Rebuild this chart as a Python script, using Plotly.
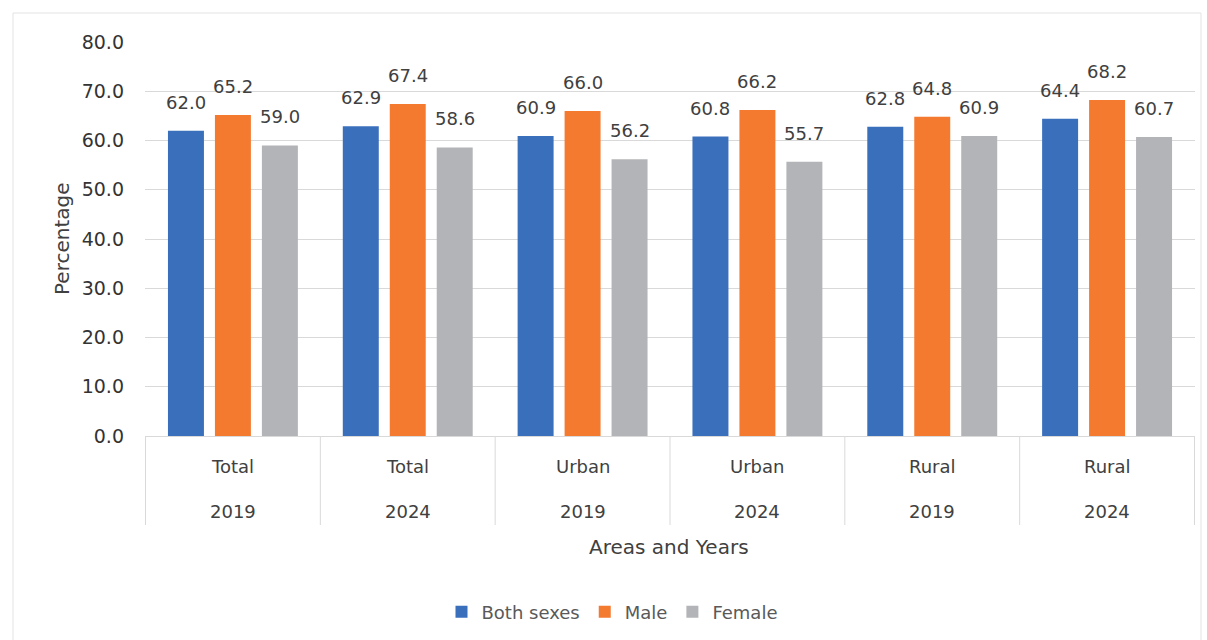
import plotly.graph_objects as go

areas = ["Total", "Total", "Urban", "Urban", "Rural", "Rural"]
years = ["2019", "2024", "2019", "2024", "2019", "2024"]
both_sexes = [62.0, 62.9, 60.9, 60.8, 62.8, 64.4]
male = [65.2, 67.4, 66.0, 66.2, 64.8, 68.2]
female = [59.0, 58.6, 56.2, 55.7, 60.9, 60.7]
y_ticks = [0, 10, 20, 30, 40, 50, 60, 70, 80]

FONT = "'DejaVu Sans', sans-serif"
TXT = "#404040"
GRID = "#D9D9D9"
W, H = 1207, 640
ML, MR, MT, MB = 145, 12, 42, 204
pw = W - ML - MR
ph = H - MT - MB
BARGAP = 0.194
BARGROUPGAP = 0.234

cats = [f"{a} {y}" for a, y in zip(areas, years)]
series = [("Both sexes", both_sexes, "#3A6FBC"),
          ("Male", male, "#F47A30"),
          ("Female", female, "#B3B4B7")]

fig = go.Figure()
for name, vals, col in series:
    fig.add_trace(go.Bar(
        x=cats, y=vals, name=name, marker=dict(color=col, line=dict(width=0)),
    ))

annotations = []
# value labels above bars
slot = pw / len(cats) * (1 - BARGAP) / len(series)
for k, (name, vals, col) in enumerate(series):
    for c, v in zip(cats, vals):
        annotations.append(dict(
            x=c, y=v, xref="x", yref="y", text=f"{v:.1f}", showarrow=False,
            xshift=(k - (len(series) - 1) / 2) * slot, yshift=16,
            xanchor="center", yanchor="bottom",
            font=dict(family=FONT, size=18, color=TXT)))

# two-level category labels
for c, a, y in zip(cats, areas, years):
    annotations.append(dict(x=c, xref="x", y=-30 / ph, yref="paper", text=a,
                            showarrow=False, xanchor="center", yanchor="middle",
                            font=dict(family=FONT, size=18, color=TXT)))
    annotations.append(dict(x=c, xref="x", y=-75 / ph, yref="paper", text=y,
                            showarrow=False, xanchor="center", yanchor="middle",
                            font=dict(family=FONT, size=18, color=TXT)))

annotations += [
    dict(text="Percentage", xref="paper", yref="paper", x=-(ML - 62) / pw, y=0.5,
         textangle=-90, showarrow=False, xanchor="center", yanchor="middle",
         font=dict(family=FONT, size=20, color=TXT)),
    dict(text="Areas and Years", xref="paper", yref="paper", x=(669 - ML) / pw,
         y=-(547 - (H - MB)) / ph, showarrow=False, xanchor="center", yanchor="middle",
         font=dict(family=FONT, size=20, color=TXT)),
]

shapes = [dict(type="line", xref="x", yref="paper", x0=i - 0.5, x1=i - 0.5,
               y0=0, y1=-89 / ph, line=dict(color=GRID, width=1))
          for i in range(len(cats) + 1)]
shapes.append(dict(type="rect", xref="paper", yref="paper",
                   x0=-(ML - 13) / pw, x1=(1201 - ML) / pw,
                   y0=-(H + 20 - (H - MB)) / ph, y1=1 + (MT - 13) / ph,
                   line=dict(color="#E3E3E3", width=1), fillcolor="rgba(0,0,0,0)",
                   layer="below"))

fig.update_layout(
    width=W, height=H,
    margin=dict(l=ML, r=MR, t=MT, b=MB, autoexpand=False),
    paper_bgcolor="white", plot_bgcolor="white",
    barmode="group", bargap=BARGAP, bargroupgap=BARGROUPGAP,
    font=dict(family=FONT, size=18, color=TXT),
    showlegend=True,
    legend=dict(orientation="h", x=(612 - ML) / pw, xanchor="center",
                y=-(612 - (H - MB)) / ph, yanchor="middle",
                font=dict(family=FONT, size=18, color="#595959"),
                itemwidth=30, traceorder="normal"),
    xaxis=dict(type="category", showgrid=False, showline=True, linecolor=GRID,
               showticklabels=False, ticks=""),
    yaxis=dict(range=[0, 80], tickvals=y_ticks, tickformat=".1f", showgrid=True,
               gridcolor=GRID, gridwidth=1, zeroline=False, showline=False,
               ticklabelstandoff=20,
               tickfont=dict(family=FONT, size=19, color="#333333")),
    annotations=annotations,
    shapes=shapes,
)

fig.write_html("out.html", config={"displayModeBar": False},
               post_script="document.body.style.margin='0';")
